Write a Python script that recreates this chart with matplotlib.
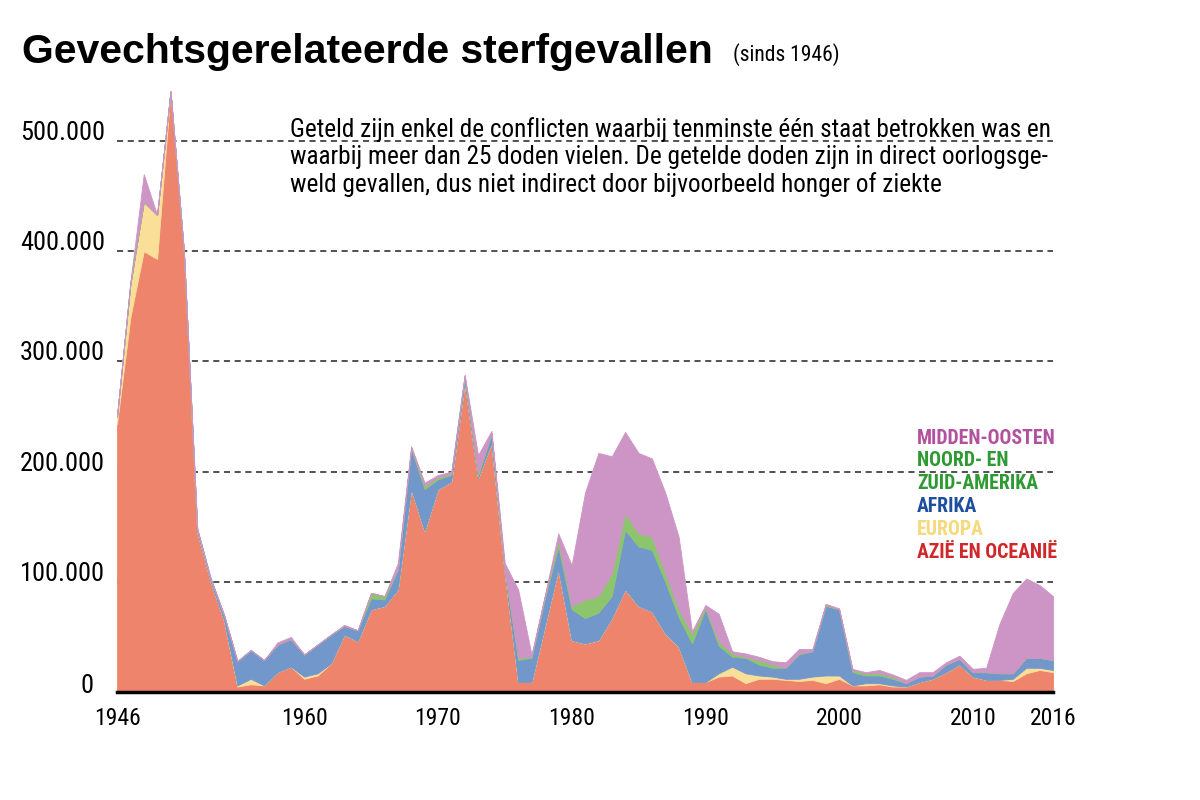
import matplotlib
matplotlib.use("Agg")
import matplotlib.pyplot as plt
from matplotlib import font_manager

# data, in thousands of battle deaths per region (stack increments)
years = list(range(1946, 2017))
azie = [243, 340, 400, 393, 545, 400, 145, 100, 65, 5,
        7, 6, 18, 23, 12, 15, 26, 52, 46, 75,
        78, 93, 184, 146, 184, 191, 281, 194, 226, 108,
        9, 9, 60, 111, 47, 44, 47, 67, 93, 78,
        73, 53, 41, 9, 9, 14, 15, 8, 12, 12,
        11, 10, 11, 8, 12, 6, 6, 7, 5, 5,
        9, 12, 18, 25, 14, 11, 11, 10, 17, 20, 18]
europa = [7, 30, 45, 40, 0, 0, 0, 0, 0, 1,
          5, 0, 0, 0, 2, 2, 0, 0, 0, 0,
          0, 0, 0, 0, 0, 0, 0, 0, 0, 0,
          0, 0, 0, 0, 0, 0, 0, 0, 0, 0,
          0, 0, 0, 0, 0, 3, 8, 9, 3, 2,
          1, 2, 3, 7, 3, 0, 2, 1, 1, 0,
          0, 0, 0, 0, 0, 0, 0, 2, 5, 2, 2]
afrika = [0, 0, 0, 0, 0, 0, 3, 3, 5, 22,
          26, 23, 25, 25, 20, 26, 26, 8, 10, 10,
          6, 18, 37, 38, 9, 6, 5, 2, 8, 2,
          20, 22, 25, 21, 28, 23, 25, 20, 54, 54,
          56, 47, 27, 35, 66, 25, 9, 14, 10, 8,
          10, 22, 23, 63, 60, 12, 7, 7, 6, 3,
          5, 3, 7, 5, 4, 7, 6, 5, 9, 9, 9]
amerika = [0, 2, 0, 0, 0, 0, 0, 0, 0, 0,
           0, 0, 0, 0, 0, 0, 0, 0, 0, 5,
           3, 0, 1, 3, 2, 1, 1, 2, 1, 0,
           2, 1, 2, 6, 3, 17, 15, 21, 15, 12,
           12, 8, 7, 9, 2, 4, 3, 1, 4, 3,
           0, 1, 0, 1, 0, 2, 2, 2, 2, 0,
           0, 0, 0, 0, 0, 0, 0, 0, 0, 0, 0]
midden_oosten = [0, 0, 25, 0, 0, 0, 0, 0, 0, 0,
                 0, 0, 2, 2, 0, 0, 0, 1, 0, 0,
                 0, 6, 1, 3, 2, 2, 1, 17, 2, 7,
                 62, 2, 1, 6, 37, 97, 130, 106, 74, 73,
                 71, 73, 66, 2, 2, 25, 2, 3, 3, 3,
                 5, 4, 2, 1, 1, 1, 1, 3, 2, 3,
                 4, 3, 2, 3, 3, 4, 45, 73, 72, 66, 58]

regio_labels = ["MIDDEN-OOSTEN", "NOORD- EN", "ZUID-AMERIKA", "AFRIKA", "EUROPA", "AZIË EN OCEANIË"]
yticks = [0, 100, 200, 300, 400, 500]
ytick_labels = ["0", "100.000", "200.000", "300.000", "400.000", "500.000"]
xticks = [1946, 1960, 1970, 1980, 1990, 2000, 2010, 2016]

fill_colors = ["#ee846b", "#f9df98", "#7197cb", "#8dc46e", "#cd95c5"]
legend_colors = ["#b2529e", "#2f9a34", "#2f9a34", "#1d4f9e", "#f6d97c", "#d0282a"]

# pick a condensed sans that is installed
available = {f.name for f in font_manager.fontManager.ttflist}
cond = "DejaVu Sans"
for c in ["Roboto Condensed", "Archivo Narrow", "Fira Sans Condensed", "IBM Plex Sans Condensed",
          "Barlow Condensed", "Saira SemiCondensed", "Sofia Sans Condensed"]:
    if c in available:
        cond = c
        break

fig = plt.figure(figsize=(12, 8), dpi=100)
ax = fig.add_axes([117 / 1200, 1 - 692 / 800, (1053 - 117) / 1200, (692 - 75) / 800])

ax.stackplot(years, azie, europa, afrika, amerika, midden_oosten,
             colors=fill_colors, edgecolor="face", linewidth=0.6)

ax.set_xlim(1946, 2016)
ax.set_ylim(0, 560)

for v in yticks[1:]:
    ax.axhline(v, color="#222222", linestyle=(0, (4, 3)), linewidth=1.1, zorder=0)

for s in ["top", "right", "left"]:
    ax.spines[s].set_visible(False)
ax.spines["bottom"].set_linewidth(2.5)
ax.spines["bottom"].set_color("black")
ax.set_yticks([])
ax.set_xticks(xticks)
ax.set_xticklabels([str(x) for x in xticks], family=cond, fontsize=17)
ax.tick_params(axis="x", length=0, pad=11)

# y labels sit just above the gridlines
for v, lab in zip(yticks, ytick_labels):
    if v == 0:
        xpos, ypix = 80, 686
    else:
        xpos, ypix = 20, 692 - v * 1.102 - 8
    fig.text(xpos / 1200, 1 - ypix / 800, lab, family=cond, fontsize=19,
             ha="left", va="center")

fig.text(22 / 1200, 1 - 52 / 800, "Gevechtsgerelateerde sterfgevallen", fontsize=29.5,
         fontweight="bold", family=["Liberation Sans", "DejaVu Sans"], va="center")
fig.text(733 / 1200, 1 - 55 / 800, "(sinds 1946)", fontsize=15.5, family=cond, va="center")

fig.text(290 / 1200, 1 - 117 / 800,
         "Geteld zijn enkel de conflicten waarbij tenminste één staat betrokken was en\n"
         "waarbij meer dan 25 doden vielen. De getelde doden zijn in direct oorlogsge-\n"
         "weld gevallen, dus niet indirect door bijvoorbeeld honger of ziekte",
         fontsize=18.2, family=cond, va="top", linespacing=1.17)

for i, (lab, col) in enumerate(zip(regio_labels, legend_colors)):
    fig.text(917 / 1200, 1 - (438 + i * 22.8) / 800, lab, color=col, fontsize=14.2,
             fontweight="bold", family=cond, va="center")

fig.savefig("out.png", dpi=100)
